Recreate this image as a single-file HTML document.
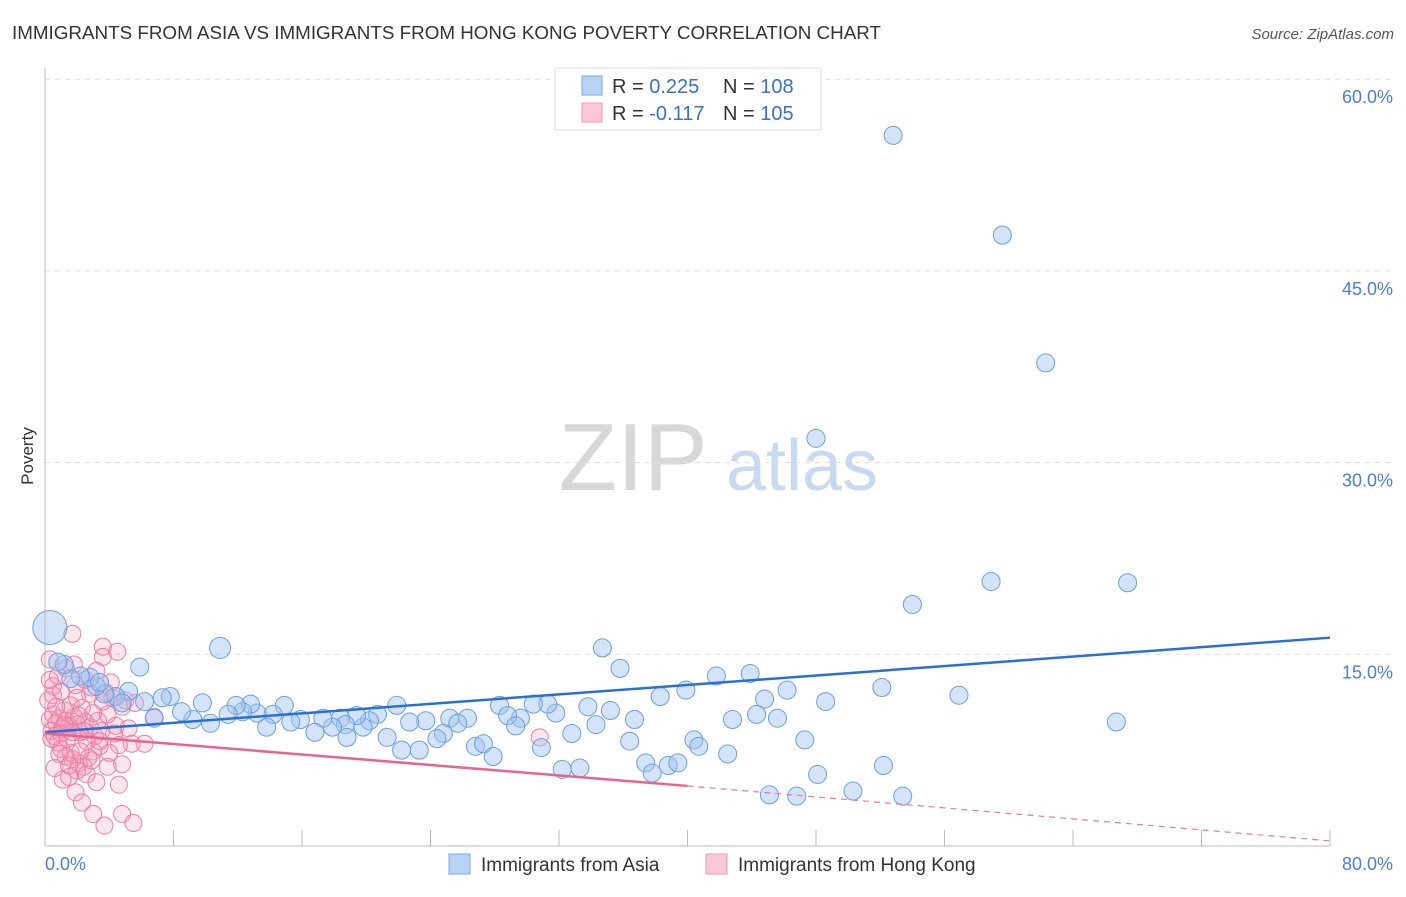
<!DOCTYPE html>
<html><head><meta charset="utf-8"><style>
body{margin:0;background:#fff;font-family:"Liberation Sans",sans-serif}
svg text{font-family:"Liberation Sans",sans-serif}
</style></head><body>
<svg id="chart" width="1406" height="892" xmlns="http://www.w3.org/2000/svg">
<text x="12" y="39" font-size="18" fill="#333" textLength="869" lengthAdjust="spacingAndGlyphs">IMMIGRANTS FROM ASIA VS IMMIGRANTS FROM HONG KONG POVERTY CORRELATION CHART</text>
<text x="1394" y="39" font-size="15" fill="#555" font-style="italic" text-anchor="end">Source: ZipAtlas.com</text>
<text transform="translate(33,456) rotate(-90)" font-size="17" fill="#333" text-anchor="middle">Poverty</text>
<g>
<text x="633" y="490" font-size="96" font-family="Liberation Serif" fill="#d8d8d8" text-anchor="middle">ZIP</text>
<text x="802" y="490" font-size="72" fill="#c8daf2" text-anchor="middle">atlas</text>
</g>
<g id="grid"></g><g id="axes"></g><g id="pts"></g><g id="lines"></g>
<g>
<rect x="555" y="68" width="266" height="62" fill="#fff" stroke="#ddd"/>
<rect x="582" y="76" width="20" height="19" fill="#b8d2f4" stroke="#7aa8e6"/>
<rect x="582" y="103" width="20" height="19" fill="#fac8d8" stroke="#ef9ab6"/>
<text x="612" y="93" font-size="20" fill="#333">R = <tspan fill="#3a70cc">0.225</tspan><tspan x="723">N = </tspan><tspan fill="#3a70cc">108</tspan></text>
<text x="612" y="120" font-size="20" fill="#333">R = <tspan fill="#3a70cc">-0.117</tspan><tspan x="723">N = </tspan><tspan fill="#3a70cc">105</tspan></text>
</g>
<g>
<rect x="449" y="854" width="21" height="20" fill="#b8d2f4" stroke="#7aa8e6"/>
<text x="481" y="871" font-size="19" fill="#333">Immigrants from Asia</text>
<rect x="706" y="854" width="21" height="20" fill="#fac8d8" stroke="#ef9ab6"/>
<text x="738" y="871" font-size="19" fill="#333">Immigrants from Hong Kong</text>
</g>
</svg>
<script>
const yTicks=[15,30,45,60];
const xTickLabels=["0.0%","80.0%"];
const asiaR=0.225, hkR=-0.117;
const asia=[[52.8,55.6],[59.6,47.8],[62.3,37.8],[48.0,31.9],[58.9,20.7],[67.4,20.6],[54.0,18.9],[52.1,12.4],[56.9,11.8],[66.7,9.7],[34.7,15.5],[35.8,13.9],[41.8,13.3],[43.9,13.5],[39.9,12.2],[46.2,12.2],[38.3,11.7],[44.8,11.5],[48.6,11.3],[33.8,10.9],[35.2,10.6],[31.8,10.4],[42.8,9.9],[44.3,10.3],[45.6,10.0],[36.7,9.9],[34.3,9.5],[32.8,8.8],[36.4,8.2],[40.4,8.3],[40.7,7.8],[47.3,8.3],[42.5,7.2],[37.4,6.5],[38.8,6.3],[39.4,6.5],[37.8,5.7],[32.2,6.0],[33.3,6.1],[52.2,6.3],[48.1,5.6],[50.3,4.3],[45.1,4.0],[46.8,3.9],[53.4,3.9],[31.3,11.1],[30.4,11.1],[28.3,11.0],[29.6,10.0],[28.8,10.2],[29.3,9.4],[30.9,7.7],[26.3,10.0],[25.2,10.0],[25.7,9.6],[26.8,7.8],[27.3,8.0],[27.9,7.0],[24.8,8.8],[24.4,8.4],[23.7,9.8],[22.7,9.7],[21.9,11.0],[20.7,10.3],[20.2,9.8],[19.8,9.3],[21.3,8.5],[22.2,7.5],[23.3,7.5],[19.4,10.2],[18.4,10.0],[18.7,9.5],[17.9,9.3],[18.8,8.5],[17.3,10.0],[16.8,8.9],[15.9,9.9],[15.3,9.7],[14.9,11.0],[14.2,10.3],[13.8,9.3],[13.2,10.4],[12.8,11.1],[12.3,10.5],[11.9,11.0],[11.4,10.3],[10.3,9.6],[9.8,11.2],[9.2,9.9],[8.5,10.5],[7.8,11.7],[7.3,11.6],[6.8,10.0],[6.2,11.3],[10.9,15.5],[5.9,14.0],[5.2,12.1],[4.4,11.7],[3.7,11.9],[3.2,12.5],[2.8,13.2],[2.2,13.3],[1.6,13.1],[1.2,14.2],[0.8,14.4],[0.3,17.1],[4.8,11.2],[3.4,12.8]];
const hk=[[0.3,9.9],[0.5,10.3],[0.7,9.6],[0.9,10.0],[1.1,9.2],[1.3,9.8],[0.4,9.0],[0.6,8.6],[1.0,8.8],[1.5,9.4],[1.8,10.1],[2.0,9.5],[2.2,8.9],[2.5,9.7],[2.8,9.3],[3.1,8.6],[3.5,9.0],[1.2,10.6],[1.6,11.0],[2.3,10.8],[0.2,11.4],[0.5,12.5],[0.8,13.3],[1.3,13.9],[0.3,14.6],[1.7,16.6],[3.6,15.6],[3.6,14.8],[2.9,12.4],[3.8,12.0],[4.2,11.6],[4.8,10.9],[4.4,9.4],[5.2,9.2],[6.8,10.1],[5.4,8.0],[4.6,7.9],[4.8,6.4],[4.6,4.8],[3.4,8.2],[3.0,7.4],[2.7,6.9],[2.4,6.2],[2.1,6.5],[1.7,6.8],[1.3,7.0],[1.0,7.6],[0.8,8.1],[1.6,7.3],[2.0,5.9],[1.5,5.4],[2.6,5.6],[3.2,5.0],[1.1,5.2],[0.6,6.1],[1.9,4.2],[2.3,3.4],[3.0,2.5],[3.7,1.6],[4.8,2.5],[5.5,1.8],[3.9,6.2],[4.0,7.3],[3.3,9.8],[2.6,8.2],[1.4,8.4],[0.9,7.2],[0.5,11.8],[1.9,12.6],[2.8,11.9],[3.9,10.3],[4.3,8.8],[5.6,11.2],[2.1,10.2],[1.2,9.5],[0.7,10.9],[2.4,9.0],[3.0,10.4],[1.5,6.3],[2.9,6.7],[3.4,7.8],[2.2,7.4],[30.8,8.5],[6.2,8.0],[1.7,8.9],[0.4,8.4],[1.0,12.1],[2.5,13.0],[3.2,13.7],[4.1,12.8],[0.3,13.0],[1.8,14.2],[4.5,15.2],[5.0,11.4],[3.6,11.3],[2.0,11.6]];
const asiaTrend=[[0,8.9],[80,16.3]];
const hkTrend=[[0,8.8],[40,4.7],[80,0.4]];
const NS="http://www.w3.org/2000/svg";
const X0=45,X1=1330,Y0=846,YPER=191.7/15;
const sx=v=>X0+v/80*(X1-X0), sy=v=>Y0-v*YPER;
function mk(t,a,p){const e=document.createElementNS(NS,t);for(const k in a)e.setAttribute(k,a[k]);p.appendChild(e);return e;}
const grid=document.getElementById('grid'),axes=document.getElementById('axes');
yTicks.forEach(t=>{
 const l=mk('line',{x1:X0,x2:1395,y1:sy(t),y2:sy(t),stroke:'#dcdcdc','stroke-dasharray':'5,5'},grid);
 
 
 const tx=mk('text',{x:1393,y:sy(t)+24,'font-size':18,fill:'#4a7fd4','text-anchor':'end'},grid);
 tx.textContent=t.toFixed(1)+'%';
 
 
});
const ya=mk('line',{x1:X0,x2:X0,y1:68,y2:Y0,stroke:'#bbb'},axes);


const xa=mk('line',{x1:X0,x2:X1,y1:Y0,y2:Y0,stroke:'#bbb'},axes);


for(let v=0;v<=80;v+=8){const t=mk('line',{x1:sx(v),x2:sx(v),y1:830,y2:Y0,stroke:'#bbb'},axes);
 
 }
[[0,'start',45],[80,'end',1393]].forEach((d,i)=>{const t=mk('text',{x:d[2],y:870,'font-size':18,fill:'#4a7fd4','text-anchor':d[1]},axes);t.textContent=xTickLabels[i];
 
 });
const pts=document.getElementById('pts');
hk.forEach(p=>{const c=mk('circle',{cx:sx(p[0]),cy:sy(p[1]),r:8.5,fill:'rgba(244,150,182,0.25)',stroke:'#ec7fa3','stroke-width':1},pts);
 
 });
asia.forEach((p,i)=>{const c=mk('circle',{cx:sx(p[0]),cy:sy(p[1]),r:(p[0]<1&&p[1]>16?17:(p[0]>10&&p[0]<12&&p[1]>15?10.5:9)),fill:'rgba(160,196,240,0.45)',stroke:'#6b9ee2','stroke-width':1},pts);
 
 });
const lines=document.getElementById('lines');
const la=mk('line',{x1:sx(asiaTrend[0][0]),y1:sy(asiaTrend[0][1]),x2:sx(asiaTrend[1][0]),y2:sy(asiaTrend[1][1]),stroke:'#2a6fd6','stroke-width':2.5},lines);


const lh=mk('line',{x1:sx(hkTrend[0][0]),y1:sy(hkTrend[0][1]),x2:sx(hkTrend[1][0]),y2:sy(hkTrend[1][1]),stroke:'#e8648e','stroke-width':2.5},lines);


const ld=mk('line',{x1:sx(hkTrend[1][0]),y1:sy(hkTrend[1][1]),x2:sx(hkTrend[2][0]),y2:sy(hkTrend[2][1]),stroke:'#e8789c','stroke-width':1.2,'stroke-dasharray':'6,5'},lines);


</script>
</body></html>
